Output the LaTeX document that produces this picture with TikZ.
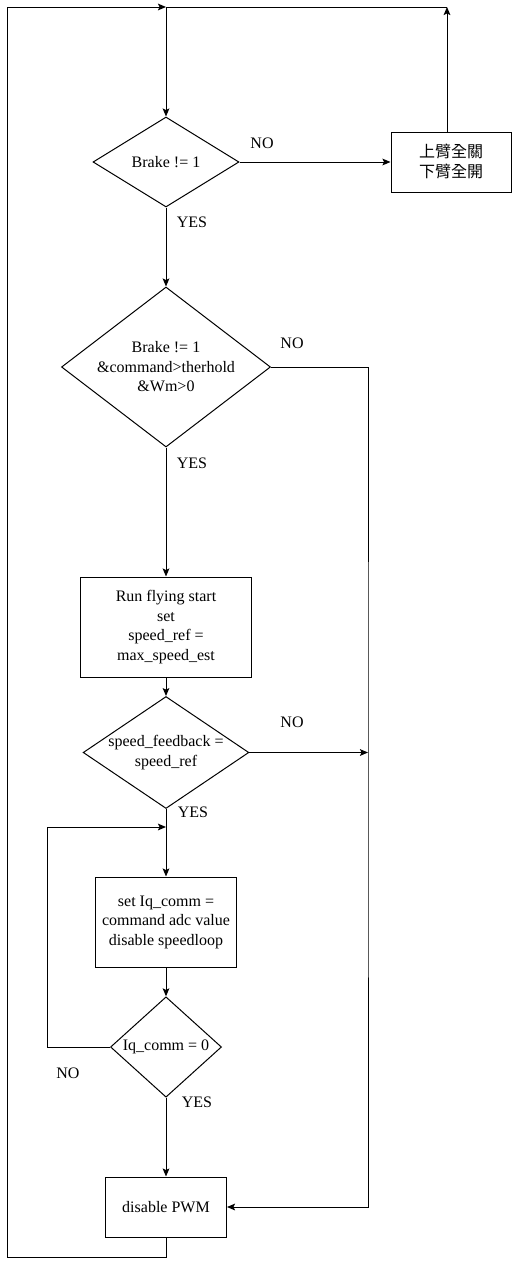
\documentclass[tikz,border=0pt]{standalone}
\usepackage{fontspec}
\setmainfont{Liberation Serif}
\newfontfamily\cjk{Noto Sans CJK TC}
\usetikzlibrary{shapes.geometric}
\usetikzlibrary{arrows.meta}
\newcommand*{\px   }{0.75pt}
\newcommand*{\xmid }{166}
\newcommand*{\xbus }{368}
\newcommand*{\xback}{7}
\newcommand*{\ytop }{7}
\newcommand*{\ybot }{1257}
\tikzset{
    block/.style    = {draw, rectangle, inner sep=0pt, align=center},
    decision/.style = {draw, diamond, inner sep=0pt, align=center},
    flow/.style     = {-{Stealth[length=6pt,width=5pt,inset=1.2pt]}},
}

\begin{document}
\begin{tikzpicture}[x=\px, y=-\px, line width=0.75pt, font=\fontsize{12}{14.6}\selectfont]
    \useasboundingbox (0,0) rectangle (512,1267);
        \node [decision, minimum width=146*\px, minimum height=90*\px] (brake) at (\xmid,162) {Brake != 1};
        \node [block, minimum width=120*\px, minimum height=60*\px, font=\cjk\fontsize{12}{15}\selectfont] (gate) at (451,162) {上臂全關\\下臂全開};
        \node [decision, shape aspect=1.31, minimum width=209*\px, minimum height=160*\px] (check) at (\xmid,367) {Brake != 1\\\&command>therhold\\\&Wm>0};
        \node [block, minimum width=171*\px, minimum height=100*\px] (fly) at (\xmid,627) {Run flying start\\set\\speed\_ref =\\max\_speed\_est};
        \node [decision, shape aspect=1.48, minimum width=161*\px, minimum height=109*\px] (speed) at (\xmid,752.5) {speed\_feedback =\\speed\_ref};
        \node [block, minimum width=141*\px, minimum height=90*\px] (iq) at (\xmid,922) {set Iq\_comm =\\command adc value\\disable speedloop};
        \node [decision, minimum width=111*\px, minimum height=100*\px] (zero) at (\xmid,1047) {Iq\_comm = 0};
        \node [block, minimum width=121*\px, minimum height=60*\px] (pwm) at (\xmid,1207) {disable PWM};
        % branch labels
        \node (no1)  at (262,143)  {NO};
        \node (yes1) at (192,222)  {YES};
        \node (no2)  at (292,343)  {NO};
        \node (yes2) at (192,463)  {YES};
        \node (no3)  at (292,722)  {NO};
        \node (yes3) at (193,812)  {YES};
        \node (no4)  at (68,1073)  {NO};
        \node (yes4) at (197,1102) {YES};
        \coordinate (tm)   at (\xmid,\ytop);
        \coordinate (tr)   at (447,\ytop);
        \coordinate (bl)   at (\xback,\ybot);
        \coordinate (bus)  at (\xbus,752.5);
        \coordinate (loop) at (47,827);
        \coordinate (join) at (\xmid,827);
        \draw [flow] (tm) -- (brake.north);
        \draw [flow] (brake.east) -- (gate.west);
        \draw [flow] (gate.north -| tr) -- (tr);
        \draw (tr) -- (tm);
        \draw [flow] (brake.south) -- (check.north);
        \draw [flow] (check.east) -| (bus) |- (pwm.east);
        \draw [flow] (check.south) -- (fly.north);
        \draw [flow] (fly.south) -- (speed.north);
        \draw [flow] (speed.east) -- (bus);
        \draw [flow] (speed.south) -- (iq.north);
        \draw [flow] (iq.south) -- (zero.north);
        \draw [flow] (zero.west) -| (loop) -- (join);
        \draw [flow] (zero.south) -- (pwm.north);
        \draw [flow] (pwm.south) |- (bl) |- (tm);
    \end{tikzpicture}
\end{document}
